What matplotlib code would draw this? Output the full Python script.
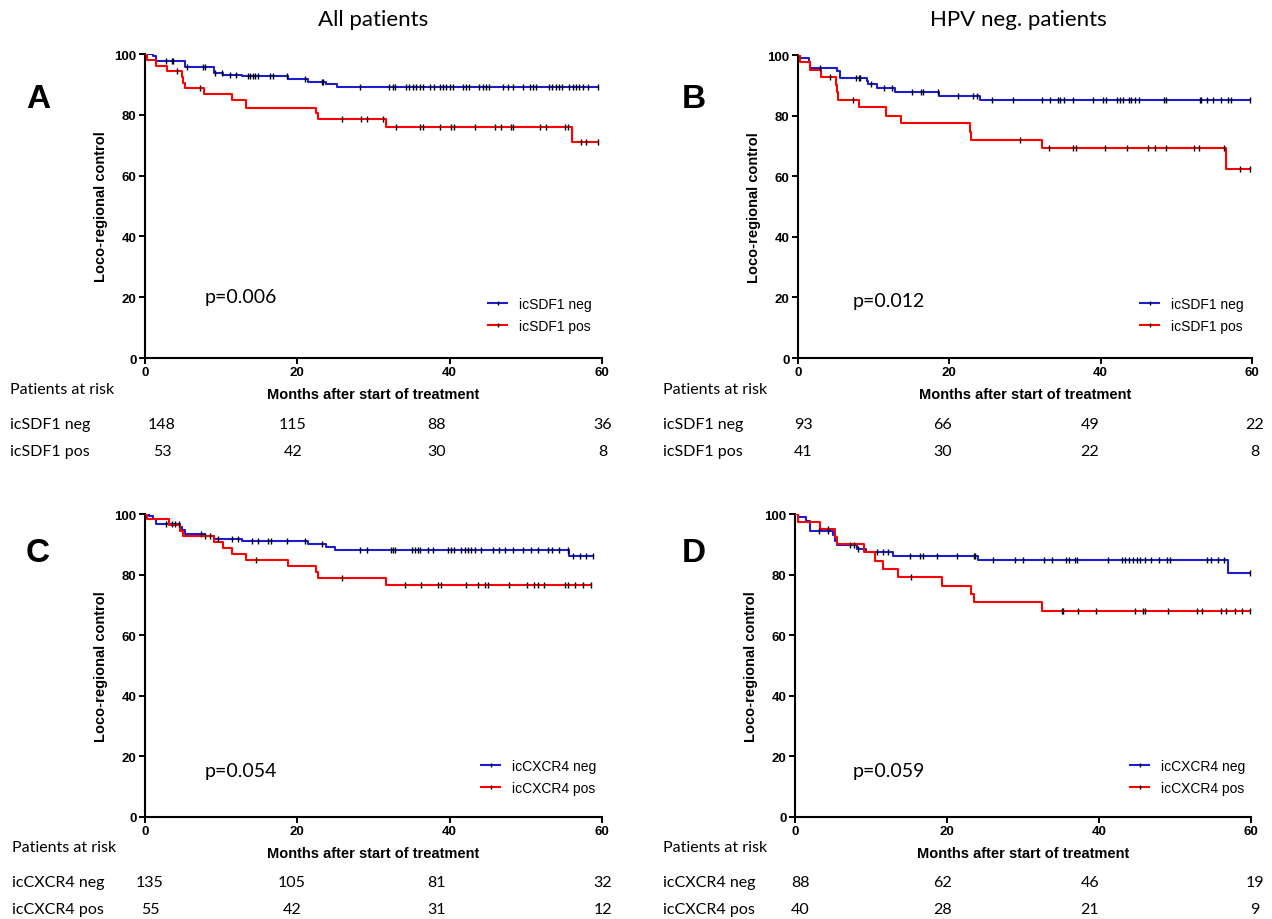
import numpy as np
import matplotlib
matplotlib.use('Agg')
import matplotlib.pyplot as plt
from matplotlib.lines import Line2D

W, H = 1272, 920
BLUE = '#1c1cd0'
RED = '#ff0000'
AX_FONT = 'Liberation Sans'
TXT_FONT = 'Lato'

# ---- panel A: all patients, icSDF1 ----
a_neg_t = [1.1, 1.5, 5.2, 9.0, 10.3, 12.7, 18.8, 21.4, 23.8, 25.2]
a_neg_s = [99.3, 97.7, 95.6, 93.9, 93.2, 92.6, 91.7, 90.9, 90.0, 89.2]
a_neg_c = [2.8, 3.5, 3.7, 5.5, 7.6, 7.9, 9.2, 10.1, 11.1, 12.0, 13.5, 13.8, 14.2, 14.4, 14.9,
           16.4, 16.8, 18.6, 21.0, 23.2, 23.4, 28.2, 32.1, 32.6, 32.8, 34.3, 34.7, 35.2, 35.6,
           36.1, 36.5, 37.4, 38.0, 38.7, 39.1, 39.5, 40.0, 40.4, 41.7, 42.2, 42.6, 43.9, 44.4,
           44.8, 45.2, 47.0, 47.6, 48.3, 49.6, 50.5, 50.9, 51.3, 53.1, 53.5, 54.0, 54.4, 54.8,
           55.7, 56.2, 56.6, 57.0, 57.5, 58.1, 59.5]
a_pos_t = [0.3, 1.4, 2.9, 4.8, 5.0, 5.2, 7.8, 11.4, 13.3, 22.4, 22.7, 31.6, 56.0]
a_pos_s = [98.1, 96.2, 94.3, 92.5, 90.6, 88.7, 86.8, 84.9, 82.4, 80.5, 78.6, 76.1, 71.0]
a_pos_c = [4.2, 7.2, 25.8, 28.4, 29.1, 31.2, 33.0, 36.1, 36.5, 38.7, 40.2, 40.6, 43.3, 45.9,
           46.8, 48.1, 48.3, 51.8, 52.7, 55.1, 55.5, 57.3, 57.9, 59.5]

# ---- panel B: HPV neg, icSDF1 ----
b_neg_t = [0.3, 1.4, 1.6, 5.1, 5.5, 9.1, 9.3, 10.4, 12.8, 18.7, 24.0]
b_neg_s = [98.9, 97.8, 95.7, 94.6, 92.5, 91.4, 90.3, 89.1, 87.9, 86.6, 85.0]
b_neg_c = [2.9, 7.7, 8.0, 8.2, 9.7, 11.3, 12.4, 15.0, 16.3, 16.5, 18.5, 21.2, 23.1, 23.6,
           25.6, 28.4, 32.2, 33.3, 34.4, 34.6, 35.2, 36.3, 39.0, 40.3, 40.7, 42.1, 42.5, 42.9,
           43.8, 44.0, 44.5, 45.1, 48.4, 48.7, 53.1, 53.3, 54.0, 54.8, 55.9, 56.8, 57.2, 59.8]
b_pos_t = [0.3, 1.6, 3.1, 5.0, 5.2, 5.3, 8.0, 11.6, 13.6, 22.7, 22.9, 32.2, 56.6]
b_pos_s = [97.6, 95.1, 92.7, 90.2, 87.8, 85.3, 82.7, 80.0, 77.4, 74.7, 72.0, 69.3, 62.4]
b_pos_c = [4.2, 7.3, 29.4, 33.2, 36.4, 36.7, 40.6, 43.5, 46.3, 47.2, 48.7, 52.3, 53.0, 56.3,
           58.4, 59.8]

# ---- panel C: all patients, icCXCR4 ----
c_neg_t = [0.5, 1.1, 1.5, 4.6, 4.8, 5.2, 7.9, 9.0, 12.7, 21.4, 23.8, 25.0, 55.7]
c_neg_s = [99.3, 98.5, 96.7, 95.8, 94.6, 93.4, 92.6, 91.8, 91.0, 90.1, 89.0, 88.2, 86.3]
c_neg_c = [2.8, 3.5, 3.9, 4.4, 7.4, 7.9, 9.6, 11.4, 12.2, 14.0, 14.9, 16.2, 16.6, 18.6, 21.0,
           23.2, 28.2, 29.1, 32.3, 32.6, 32.8, 35.0, 35.4, 35.8, 36.1, 37.1, 37.8, 39.8, 40.2,
           40.6, 41.5, 42.0, 42.4, 42.8, 43.3, 44.1, 45.7, 46.5, 47.2, 48.3, 49.6, 50.7, 51.6,
           52.9, 53.5, 54.4, 55.5, 56.2, 57.1, 57.9, 58.8]
c_pos_t = [0.2, 3.1, 4.6, 5.0, 9.0, 10.2, 11.4, 13.2, 18.8, 22.5, 22.7, 31.6]
c_pos_s = [98.2, 96.4, 94.5, 92.6, 90.8, 88.9, 86.9, 84.8, 83.0, 80.9, 78.8, 76.6]
c_pos_c = [8.5, 14.6, 25.8, 34.1, 36.3, 38.5, 38.9, 42.2, 43.7, 44.6, 45.0, 47.8, 50.2, 51.1,
           51.6, 52.4, 55.1, 55.5, 56.4, 57.5, 58.6]

# ---- panel D: HPV neg, icCXCR4 ----
d_neg_t = [0.4, 1.5, 2.0, 5.0, 5.3, 5.5, 8.1, 9.3, 12.9, 24.1, 57.0]
d_neg_s = [98.9, 97.7, 94.3, 93.1, 91.0, 89.8, 88.6, 87.4, 86.0, 84.7, 80.5]
d_neg_c = [3.1, 4.4, 7.2, 7.7, 8.3, 10.8, 11.6, 12.3, 15.1, 16.5, 16.9, 18.7, 21.3, 23.5,
           23.7, 26.0, 28.9, 30.0, 32.8, 33.8, 35.7, 36.0, 36.8, 37.1, 41.2, 43.0, 43.4, 43.9,
           44.5, 45.0, 45.4, 46.1, 46.9, 47.9, 48.9, 49.4, 54.2, 54.8, 55.6, 56.4, 59.9]
d_pos_t = [0.4, 3.3, 5.2, 5.5, 9.1, 10.5, 11.6, 13.6, 19.3, 23.2, 23.5, 32.5]
d_pos_s = [97.5, 95.0, 92.5, 90.0, 87.4, 84.6, 81.9, 79.1, 76.2, 73.5, 70.8, 68.0]
d_pos_c = [4.4, 15.3, 35.1, 35.3, 37.3, 39.6, 44.8, 45.8, 46.1, 49.1, 52.9, 53.6, 56.1, 56.7,
           57.9, 58.8, 59.9]

p_values = ['p=0.006', 'p=0.012', 'p=0.054', 'p=0.059']
sdf_labels = ['icSDF1 neg', 'icSDF1 pos']
cxcr_labels = ['icCXCR4 neg', 'icCXCR4 pos']
risk_a = [[148, 115, 88, 36], [53, 42, 30, 8]]
risk_b = [[93, 66, 49, 22], [41, 30, 22, 8]]
risk_c = [[135, 105, 81, 32], [55, 42, 31, 12]]
risk_d = [[88, 62, 46, 19], [40, 28, 21, 9]]


def px(x, y):
    return x / W, 1 - y / H


def km_draw(ax, times, surv, cens, color):
    end = max(cens[-1], times[-1])
    x = [0] + times + [end]
    y = [100] + surv + [surv[-1]]
    ax.step(x, y, where='post', color=color, lw=1.5, zorder=3)
    idx = np.searchsorted(times, cens, side='right')
    lv = np.array([100] + surv)[idx]
    ax.plot(cens, lv, ls='none', marker='|', color='black', ms=4.5, mew=1.0, zorder=4)


fig = plt.figure(figsize=(W / 100, H / 100), dpi=100)

# axes rectangles in pixels: left, top(100), right(60), bottom(0)
panels = [
    dict(rect=(145, 55, 602, 359), data=(a_neg_t, a_neg_s, a_neg_c, a_pos_t, a_pos_s, a_pos_c),
         labels=sdf_labels, risk=risk_a, letter='A', lpos=(38, 100), leg=(488, 298),
         p=(205, 297), tab_x=10, tab_y=390, num_x=[162, 293, 437, 603]),
    dict(rect=(798, 56, 1252, 359), data=(b_neg_t, b_neg_s, b_neg_c, b_pos_t, b_pos_s, b_pos_c),
         labels=sdf_labels, risk=risk_b, letter='B', lpos=(694, 100), leg=(1140, 298),
         p=(853, 301), tab_x=663, tab_y=390, num_x=[803, 943, 1090, 1255]),
    dict(rect=(145, 515, 602, 818), data=(c_neg_t, c_neg_s, c_neg_c, c_pos_t, c_pos_s, c_pos_c),
         labels=cxcr_labels, risk=risk_c, letter='C', lpos=(38, 553), leg=(481, 760),
         p=(205, 772), tab_x=12, tab_y=848, num_x=[150, 292, 437, 603]),
    dict(rect=(795, 515, 1251, 818), data=(d_neg_t, d_neg_s, d_neg_c, d_pos_t, d_pos_s, d_pos_c),
         labels=cxcr_labels, risk=risk_d, letter='D', lpos=(694, 553), leg=(1130, 760),
         p=(853, 772), tab_x=663, tab_y=848, num_x=[800, 943, 1090, 1255]),
]

for i, pnl in enumerate(panels):
    l, t, r, b = pnl['rect']
    ax = fig.add_axes([l / W, 1 - b / H, (r - l) / W, (b - t) / H])
    nt, ns, nc, pt, ps, pc = pnl['data']
    km_draw(ax, nt, ns, nc, BLUE)
    km_draw(ax, pt, ps, pc, RED)
    ax.set_xlim(0, 60)
    ax.set_ylim(0, 100)
    ax.set_xticks([0, 20, 40, 60])
    ax.set_yticks([0, 20, 40, 60, 80, 100])
    for s in ['top', 'right']:
        ax.spines[s].set_visible(False)
    for s in ['left', 'bottom']:
        ax.spines[s].set_linewidth(1.5)
    ax.tick_params(direction='out', length=4, width=1.4, pad=2)
    for lab in ax.get_xticklabels() + ax.get_yticklabels():
        lab.set_fontfamily(AX_FONT)
        lab.set_fontweight('bold')
        lab.set_fontsize(9.5)
    ax.set_xlabel('Months after start of treatment', fontfamily=AX_FONT, fontweight='bold',
                  fontsize=10.5, labelpad=6)
    ax.set_ylabel('Loco-regional control', fontfamily=AX_FONT, fontweight='bold',
                  fontsize=10.5, labelpad=5)

    handles = [Line2D([], [], color=BLUE, lw=1.5, marker='|', mec='black', ms=3.5, mew=1),
               Line2D([], [], color=RED, lw=1.5, marker='|', mec='black', ms=3.5, mew=1)]
    ax.legend(handles, pnl['labels'], loc='upper left', bbox_to_anchor=px(*pnl['leg']),
              bbox_transform=fig.transFigure, frameon=False, borderpad=0, borderaxespad=0,
              handlelength=1.4, handletextpad=0.8, labelspacing=0.6, numpoints=1,
              prop=dict(family=AX_FONT, size=10))

    fig.text(*px(*pnl['p']), p_values[i], family=TXT_FONT, fontsize=14, va='center', ha='left')
    fig.text(*px(*pnl['lpos']), pnl['letter'], family=AX_FONT, fontweight='bold', fontsize=24,
             ha='center', va='center')

    # patients at risk table
    tx, ty = pnl['tab_x'], pnl['tab_y']
    fig.text(*px(tx, ty), 'Patients at risk', family=TXT_FONT, fontsize=11.5, va='center')
    for row in range(2):
        yy = ty + 35 + row * 27
        fig.text(*px(tx, yy), pnl['labels'][row], family=TXT_FONT, fontsize=11.5, va='center')
        for xx, n in zip(pnl['num_x'], pnl['risk'][row]):
            fig.text(*px(xx, yy), str(n), family=TXT_FONT, fontsize=11.5, va='center', ha='center')

fig.text(*px(373, 20), 'All patients', family=TXT_FONT, fontsize=16, ha='center', va='center')
fig.text(*px(1018, 20), 'HPV neg. patients', family=TXT_FONT, fontsize=16, ha='center', va='center')

fig.savefig('out.png', dpi=100)
